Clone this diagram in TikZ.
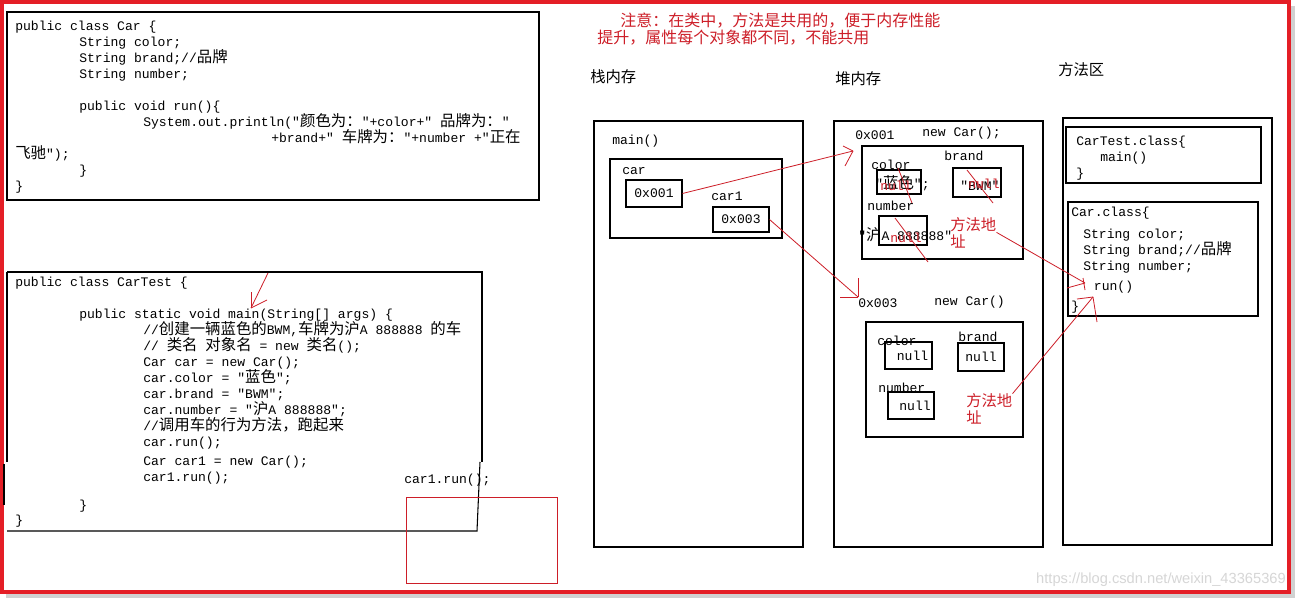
\documentclass[tikz,border=0pt]{standalone}
\usepackage{fontspec}
\setmonofont{Liberation Mono}
\newfontfamily\cjk[Scale=1.18]{Noto Sans CJK SC}
\newfontfamily\cjkfont{Noto Sans CJK SC}
\newfontfamily\wmfont{Liberation Sans}
\definecolor{redink}{RGB}{205,30,40}
\definecolor{frame}{RGB}{228,30,38}
\newcommand\codefont{\ttfamily\fontsize{9.8}{12}\selectfont}
\begin{document}
\lineskiplimit=-20pt
\begin{tikzpicture}[x=0.75pt,y=-0.75pt,
  box/.style={draw=black,line width=0.8pt},
  code/.style={font=\codefont,align=left,anchor=north west,inner sep=0pt},
  lbl/.style={font=\codefont,anchor=west,inner sep=0pt},
  valbox/.style={draw=black,line width=0.8pt,minimum width=#1,inner sep=0pt,font=\codefont},
  head/.style={font=\cjkfont\fontsize{11.5}{14}\selectfont,anchor=west,inner sep=0pt},
  note/.style={font=\cjkfont\fontsize{12}{14}\selectfont,text=redink,anchor=west,inner sep=0pt},
  redlbl/.style={font=\cjkfont\fontsize{11.5}{12}\selectfont,text=redink,anchor=west,inner sep=0pt},
  rednull/.style={font=\codefont,text=redink,anchor=west,inner sep=0pt},
  ink/.style={draw=redink,line width=0.6pt},
]
\useasboundingbox (0,0) rectangle (1299,600);
% shadow and frame
\fill[black!18] (6,6) rectangle (1295,598);
\fill[white] (2,2) rectangle (1289,592);
\draw[frame,line width=2.8pt] (2,2) rectangle (1289,592);

% ---------- class Car ----------
\draw[box] (7,12) rectangle (539,200);
\node[code] (carcode) at (15,21) {public class Car \{\\
\hspace*{48pt}String color;\\
\hspace*{48pt}String brand;//{\cjk 品牌}\\
\hspace*{48pt}String number;\\[12pt]
\hspace*{48pt}public void run()\{\\
\hspace*{96pt}System.out.println("{\cjk 颜色为：}"+color+" {\cjk 品牌为：}"\\
\hspace*{192pt}+brand+" {\cjk 车牌为：}"+number +"{\cjk 正在}\\
{\cjk 飞驰}");\\
\hspace*{48pt}\}\\
\}};

% ---------- class CarTest ----------
\draw[box] (7,272) -- (482,272) -- (482,462);
\draw[box] (480,462) -- (477,531) -- (7,531);
\draw[box] (7,272) -- (7,462);
\draw[box] (4,464) -- (4,505);
\node[code] (testcode) at (15,277) {public class CarTest \{\\[12pt]
\hspace*{48pt}public static void main(String{[}{]} args) \{\\
\hspace*{96pt}//{\cjk 创建一辆蓝色的}BWM,{\cjk 车牌为沪}A 888888 {\cjk 的车}\\
\hspace*{96pt}// {\cjk 类名} {\cjk 对象名} = new {\cjk 类名}();\\
\hspace*{96pt}Car car = new Car();\\
\hspace*{96pt}car.color = "{\cjk 蓝色}";\\
\hspace*{96pt}car.brand = "BWM";\\
\hspace*{96pt}car.number = "{\cjk 沪}A 888888";\\
\hspace*{96pt}//{\cjk 调用车的行为方法，跑起来}\\
\hspace*{96pt}car.run();\\[2.25pt]
\hspace*{96pt}Car car1 = new Car();\\
\hspace*{96pt}car1.run();\\[9pt]
\hspace*{48pt}\}\\[-0.75pt]
\}};
\node[lbl] (carrun) at (404,480) {car1.run();};
\draw[draw=redink,line width=0.6pt] (406,497) rectangle (557,583);
\coordinate (mainfrom) at (268,273);
\coordinate (maintip) at (251,308);
\draw[ink] (mainfrom) -- (maintip);
\draw[ink] (maintip) -- (251,292);
\draw[ink] (maintip) -- (267,300);

% ---------- note ----------
\node[note] (note1) at (620,21) {注意：在类中，方法是共用的，便于内存性能};
\node[note] (note2) at (597,38) {提升，属性每个对象都不同，不能共用};

% ---------- headings ----------
\node[head] (hstack) at (590,77) {栈内存};
\node[head] (hheap) at (835,79) {堆内存};
\node[head] (hmeth) at (1058,70) {方法区};

% ---------- stack ----------
\draw[box] (594,121) rectangle (803,547);
\node[lbl] (mainf) at (612,141) {main()};
\draw[box] (610,159) rectangle (782,238);
\node[lbl] (carl) at (622,171) {car};
\node[valbox=42pt,minimum height=20.25pt] (p1) at (654,193.5) {0x001};
\node[lbl] (car1l) at (711,196) {car1};
\node[valbox=42pt,minimum height=18.75pt] (p3) at (741,219.5) {0x003};

% ---------- heap ----------
\draw[box] (834,121) rectangle (1043,547);
\node[lbl] (a1) at (855,135) {0x001};
\node[lbl] (n1) at (922,133) {new Car();};
\draw[box] (862,146) rectangle (1023,259);
\node[lbl] (c1l) at (871,165) {color};
\node[valbox=33pt,minimum height=18pt] (c1) at (899,182) {};
\node[lbl] (c1v) at (875,183) {"{\cjk 蓝色}";};
\node[rednull] (c1n) at (880,186) {null};
\node[lbl] (b1l) at (944,156) {brand};
\node[valbox=36pt,minimum height=21.75pt] (b1) at (977,182.5) {};
\node[lbl] (b1v) at (960,186) {"BWM"};
\node[rednull] (b1n) at (968,184) {null};
\node[lbl] (u1l) at (867,206) {number};
\node[valbox=36pt,minimum height=21.75pt] (u1) at (903,230.5) {};
\node[lbl] (u1v) at (858,235) {"{\cjk 沪}A 888888"};
\node[rednull] (u1n) at (890,238) {null};
\node[redlbl] (m1) at (950,225) {方法地};
\node[redlbl] (m1b) at (950,241) {址};
\draw[ink] (898,168) -- (912,203);
\draw[ink] (967,170) -- (993,203);
\draw[ink] (895,218) -- (928,262);

\node[lbl] (a3) at (858,303) {0x003};
\node[lbl] (n3) at (934,302) {new Car()};
\draw[box] (866,322) rectangle (1023,437);
\node[lbl] (c3l) at (877,341) {color};
\node[valbox=35.25pt,minimum height=20.25pt] (c3) at (908.5,355.5) {\hspace*{6pt}null};
\node[lbl] (b3l) at (958,337) {brand};
\node[valbox=34.5pt,minimum height=21pt] (b3) at (981,357) {null};
\node[lbl] (u3l) at (878,388) {number};
\node[valbox=34.5pt,minimum height=20.25pt] (u3) at (911,405.5) {\hspace*{6pt}null};
\node[redlbl] (m3) at (966,401) {方法地};
\node[redlbl] (m3b) at (966,417) {址};

% ---------- method area ----------
\draw[box] (1063,118) rectangle (1272,545);
\draw[box] (1066,127) rectangle (1261,183);
\node[code] (ctcls) at (1076,136) {CarTest.class\{\\
\hspace*{18pt}main()\\
\}};
\draw[box] (1068,202) rectangle (1258,316);
\node[code] (ccls) at (1071,207) {Car.class\{\\[4.5pt]
\hspace*{9pt}String color;\\
\hspace*{9pt}String brand;//{\cjk 品牌}\\
\hspace*{9pt}String number;\\[3pt]
\hspace*{17pt}run()\\[3pt]
\}};
\coordinate (runtip) at (1085,283);
\coordinate (runtip2) at (1093,297);

% ---------- references ----------
\coordinate (h1tip) at (853,151);
\coordinate (h3tip) at (858,297);
\draw[ink] (p1.east) -- (h1tip);
\draw[ink] (h1tip) -- (843,146);
\draw[ink] (h1tip) -- (845,166);
\draw[ink] (p3.east) -- (h3tip);
\draw[ink] (h3tip) -- (858,278);
\draw[ink] (h3tip) -- (840,297);
\draw[ink] (m1.south east) -- (runtip);
\draw[ink] (runtip) -- (1067,288);
\draw[ink] (1083,278) -- (1085,290);
\draw[ink] (m3.north east) -- (runtip2);
\draw[ink] (runtip2) -- (1077,299);
\draw[ink] (runtip2) -- (1097,322);

% watermark
\node[font=\wmfont\fontsize{11}{12}\selectfont,text=black!16,anchor=east,inner sep=0pt] (wm) at (1286,580) {https://blog.csdn.net/weixin\_43365369};
\end{tikzpicture}
\end{document}
